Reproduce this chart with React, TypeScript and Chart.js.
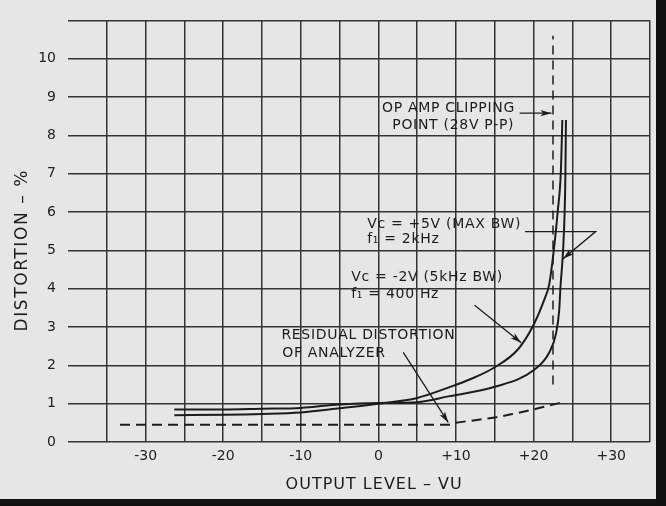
import { useEffect, useRef } from 'react';
import { Chart, registerables } from 'chart.js';

Chart.register(...registerables);

// Axis ticks
const xTickValues = [-30, -20, -10, 0, 10, 20, 30];
const xTickLabels = ['-30', '-20', '-10', '0', '+10', '+20', '+30'];
const yTickValues = [0, 1, 2, 3, 4, 5, 6, 7, 8, 9, 10];
const yTickLabels = ['0', '1', '2', '3', '4', '5', '6', '7', '8', '9', '10'];

// Vc = -2V (5kHz BW), f1 = 400 Hz  (rises earlier)
const vcMinus2X = [-26.3, -20, -15, -10, -5, 0, 5, 9, 12, 15, 18, 20, 21.5, 22, 22.6, 23.1, 23.5, 23.65, 23.7];
const vcMinus2Y = [0.7, 0.71, 0.73, 0.77, 0.88, 1.0, 1.15, 1.42, 1.65, 1.95, 2.42, 3.06, 3.78, 4.1, 5.0, 6.0, 7.0, 8.0, 8.4];

// Vc = +5V (MAX BW), f1 = 2kHz  (rises later)
const vcPlus5X = [-26.3, -20, -15, -10, -5, 0, 5, 9, 15, 20, 22, 22.9, 23.3, 23.45, 23.8, 24.0, 24.1, 24.15, 24.17];
const vcPlus5Y = [0.85, 0.85, 0.87, 0.89, 0.98, 1.02, 1.04, 1.19, 1.44, 1.87, 2.33, 2.84, 3.44, 4.0, 5.0, 6.0, 7.0, 8.0, 8.4];

// Residual distortion of analyzer (dashed)
const residualX = [-33.3, -25, -15, -5, 5, 9, 10, 12.5, 15, 17.5, 20, 22, 24.1];
const residualY = [0.45, 0.45, 0.45, 0.45, 0.45, 0.45, 0.5, 0.57, 0.64, 0.74, 0.85, 0.95, 1.06];

// Op amp clipping point (dashed vertical)
const clipX = [22.5, 22.5];
const clipY = [1.5, 10.6];

// Annotation texts (data coordinates)
const noteTexts = ['OP AMP CLIPPING', 'POINT (28V P-P)', 'Vc = +5V (MAX BW)', 'f\u2081 = 2kHz', 'Vc = -2V (5kHz BW)', 'f\u2081 = 400 Hz', 'RESIDUAL DISTORTION', 'OF ANALYZER'];
const noteX = [17.6, 17.5, -1.45, -1.45, -3.5, -3.5, -12.5, -12.4];
const noteY = [8.7, 8.27, 5.69, 5.28, 4.29, 3.86, 2.77, 2.32];
const noteAlign = ['right', 'right', 'left', 'left', 'left', 'left', 'left', 'left'];

// Leader arrows (data coordinates), arrowhead at the last point
const arrowPaths = [
  [[18.2, 8.58], [22.3, 8.58]],
  [[18.9, 5.49], [28.0, 5.49], [23.8, 4.78]],
  [[12.4, 3.57], [18.4, 2.59]],
  [[3.2, 2.34], [9.0, 0.51]],
];

const xTitle = 'OUTPUT LEVEL \u2013 VU';
const yTitle = 'DISTORTION \u2013 %';

const FONT = "'DejaVu Sans', sans-serif";
const INK = '#1c1c1c';

const toPts = (xs: number[], ys: number[]) => xs.map((x, i) => ({ x, y: ys[i] }));

const annotate = {
  id: 'annotate',
  afterDraw(chart: any) {
    const { ctx, scales } = chart;
    const sx = scales.x;
    const sy = scales.y;
    const area = chart.chartArea;
    ctx.save();
    ctx.fillStyle = INK;
    ctx.strokeStyle = INK;
    // notes
    ctx.font = `14px ${FONT}`;
    (ctx as any).letterSpacing = '0.7px';
    ctx.textBaseline = 'middle';
    noteTexts.forEach((t, i) => {
      ctx.textAlign = noteAlign[i] as CanvasTextAlign;
      ctx.fillText(t, sx.getPixelForValue(noteX[i]), sy.getPixelForValue(noteY[i]));
    });
    // arrows
    ctx.lineWidth = 1.3;
    arrowPaths.forEach((path) => {
      const pts = path.map(([x, y]) => [sx.getPixelForValue(x), sy.getPixelForValue(y)]);
      ctx.beginPath();
      ctx.moveTo(pts[0][0], pts[0][1]);
      for (let k = 1; k < pts.length; k++) ctx.lineTo(pts[k][0], pts[k][1]);
      ctx.stroke();
      const [ax, ay] = pts[pts.length - 2];
      const [bx, by] = pts[pts.length - 1];
      const len = Math.hypot(bx - ax, by - ay);
      const ux = (bx - ax) / len;
      const uy = (by - ay) / len;
      const hl = 11;
      const hw = 3.2;
      ctx.beginPath();
      ctx.moveTo(bx, by);
      ctx.lineTo(bx - ux * hl - uy * hw, by - uy * hl + ux * hw);
      ctx.lineTo(bx - ux * hl * 0.75, by - uy * hl * 0.75);
      ctx.lineTo(bx - ux * hl + uy * hw, by - uy * hl - ux * hw);
      ctx.closePath();
      ctx.fill();
    });
    // axis titles
    ctx.font = `16px ${FONT}`;
    (ctx as any).letterSpacing = '1px';
    ctx.textAlign = 'center';
    ctx.textBaseline = 'middle';
    ctx.fillText(xTitle, area.left + (area.right - area.left) * 0.526, 485);
    ctx.font = `17px ${FONT}`;
    (ctx as any).letterSpacing = '1.6px';
    ctx.translate(23, area.top + (area.bottom - area.top) * 0.545);
    ctx.rotate(-Math.PI / 2);
    ctx.fillText(yTitle, 0, 0);
    ctx.restore();
  },
};

export default function App() {
  const ref = useRef<HTMLCanvasElement | null>(null);
  useEffect(() => {
    if (!ref.current) return;
    const lineStyle = { borderColor: INK, borderWidth: 2, pointRadius: 0, fill: false, cubicInterpolationMode: 'monotone' as const };
    const chart = new Chart(ref.current, {
      type: 'line',
      data: {
        datasets: [
          { label: 'Vc = -2V (5kHz BW), f1 = 400 Hz', data: toPts(vcMinus2X, vcMinus2Y), ...lineStyle },
          { label: 'Vc = +5V (MAX BW), f1 = 2kHz', data: toPts(vcPlus5X, vcPlus5Y), ...lineStyle },
          { label: 'Residual distortion of analyzer', data: toPts(residualX, residualY), ...lineStyle, borderDash: [10, 6] },
          { label: 'Op amp clipping point (28V P-P)', data: toPts(clipX, clipY), borderColor: INK, borderWidth: 1.5, pointRadius: 0, borderDash: [9, 6], fill: false },
        ],
      },
      options: {
        animation: false,
        responsive: false,
        devicePixelRatio: 1,
        layout: { padding: { left: 0, right: 4, top: 10, bottom: 0 } },
        plugins: { legend: { display: false }, tooltip: { enabled: false } },
        scales: {
          x: {
            type: 'linear',
            min: -40,
            max: 35,
            border: { display: false },
            grid: {
              color: (c: any) => (c.tick && c.tick.value === -40 ? 'rgba(0,0,0,0)' : '#333'),
              lineWidth: 1.5,
              drawTicks: false,
            },
            ticks: {
              stepSize: 5,
              autoSkip: false,
              maxRotation: 0,
              padding: 6,
              color: '#222',
              font: { family: FONT, size: 14 },
              callback: (v: any) => {
                const i = xTickValues.indexOf(Number(v));
                return i >= 0 ? xTickLabels[i] : '';
              },
            },
            afterFit: (s: any) => { s.height = 57; },
          },
          y: {
            type: 'linear',
            min: 0,
            max: 11,
            border: { display: false },
            grid: { color: '#333', lineWidth: 1.5, drawTicks: false },
            ticks: {
              stepSize: 1,
              autoSkip: false,
              padding: 12,
              color: '#222',
              font: { family: FONT, size: 14 },
              callback: (v: any) => {
                const i = yTickValues.indexOf(Number(v));
                return i >= 0 ? yTickLabels[i] : '';
              },
            },
            afterFit: (s: any) => { s.width = 68; },
          },
        },
      },
      plugins: [annotate],
    });
    return () => chart.destroy();
  }, []);

  return (
    <div style={{ position: 'fixed', left: 0, top: 0, width: 666, height: 506, boxSizing: 'border-box', background: '#e6e6e6', borderRight: '10px solid #111', borderBottom: '7px solid #111' }}>
      <canvas ref={ref} width={656} height={499} style={{ display: 'block' }} />
    </div>
  );
}
